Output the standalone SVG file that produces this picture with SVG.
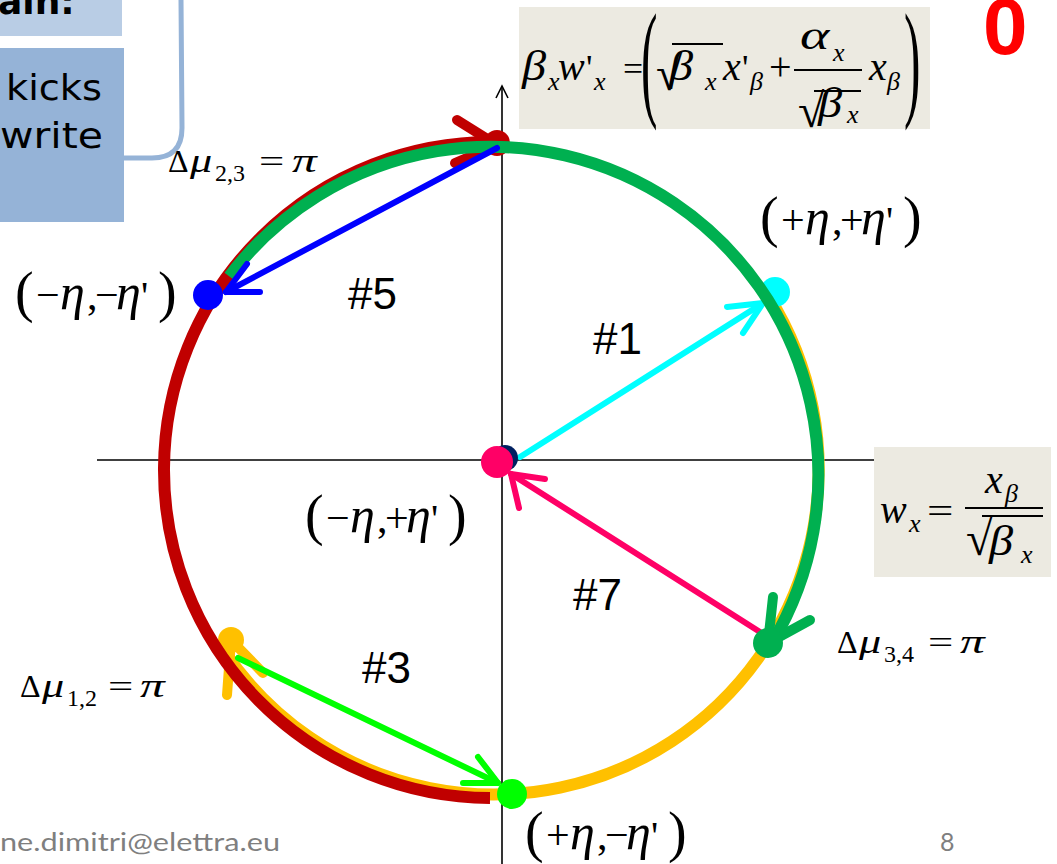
<svg xmlns="http://www.w3.org/2000/svg" width="1057" height="864" viewBox="0 0 1057 864">
<style>
.ax{stroke:#000;stroke-width:1.6;fill:none}
.m{font-family:"Liberation Serif","DejaVu Serif",serif;fill:#000}
.i{font-style:italic}
.h{font-family:"Liberation Sans",Arial,sans-serif;font-size:44px;fill:#000}
.arc{fill:none;stroke-width:12}
.hd{fill:none;stroke-width:10;stroke-linecap:round;stroke-linejoin:round}
.ar{fill:none;stroke-width:6;stroke-linecap:round;stroke-linejoin:round}
.cm{font-family:"DejaVu Sans","Liberation Sans",sans-serif;fill:#000}
</style>
<rect width="1057" height="864" fill="#fff"/>

<g id="topleft">
  <rect x="0" y="0" width="122" height="36" fill="#B9CDE5"/>
  <text class="cm" x="-2" y="14" font-size="36" font-weight="bold">ain:</text>
  <rect x="0" y="48" width="124" height="174" fill="#95B3D7"/>
  <text class="cm" x="6" y="100" font-size="36" textLength="96" lengthAdjust="spacingAndGlyphs">kicks</text>
  <text class="cm" x="0" y="148" font-size="36" textLength="103" lengthAdjust="spacingAndGlyphs">write</text>
</g>
<path id="bracket" d="M124,158 L152,158 Q182,158 182,128 L181,0" fill="none" stroke="#95B3D7" stroke-width="5"/>

<g id="axes">
  <line class="ax" x1="97" y1="460" x2="875" y2="460"/>
  <line class="ax" x1="502" y1="86" x2="502" y2="864"/>
  <polyline class="ax" points="496,98 502,86 508,98"/>
</g>

<g id="formula-top">
  <rect x="519" y="7" width="411" height="122" fill="#ECEAE1"/>
  <text class="m i" font-size="42" transform="translate(522,80) scale(1.15,1)">β</text>
  <text class="m i" x="548" y="90" font-size="26">x</text>
  <text class="m i" x="558" y="80" font-size="40">w</text>
  <text class="m" x="586" y="80" font-size="36">'</text>
  <text class="m i" x="594" y="90" font-size="26">x</text>
  <text class="m" font-size="34" transform="translate(623,80) scale(1.05,1)">=</text>
  <text class="m" font-size="130" transform="translate(641,103) scale(0.38,1)">(</text>
  <text class="m" x="656" y="90" font-size="48">√</text>
  <line x1="672" y1="44" x2="723" y2="44" stroke="#000" stroke-width="2"/>
  <text class="m i" font-size="42" transform="translate(669,80) scale(1.15,1)">β</text>
  <text class="m i" x="705" y="90" font-size="26">x</text>
  <text class="m i" x="723" y="80" font-size="40">x</text>
  <text class="m" x="742" y="80" font-size="36">'</text>
  <text class="m i" x="750" y="90" font-size="26">β</text>
  <text class="m" x="769" y="80" font-size="40">+</text>
  <line x1="794" y1="70" x2="862" y2="70" stroke="#000" stroke-width="2"/>
  <text class="m i" font-size="40" transform="translate(800,49) scale(1.4,1)">α</text>
  <text class="m i" x="833" y="61" font-size="26">x</text>
  <text class="m" x="798" y="127" font-size="48">√</text>
  <line x1="814" y1="91" x2="861" y2="91" stroke="#000" stroke-width="2"/>
  <text class="m i" font-size="42" transform="translate(818,117) scale(1.15,1)">β</text>
  <text class="m i" x="847" y="123" font-size="26">x</text>
  <text class="m i" x="869" y="80" font-size="40">x</text>
  <text class="m i" x="887" y="90" font-size="26">β</text>
  <text class="m" font-size="130" transform="translate(904,103) scale(0.38,1)">)</text>
</g>

<g id="formula-right">
  <rect x="874" y="447" width="177" height="130" fill="#ECEAE1"/>
  <text class="m i" x="880" y="523" font-size="40">w</text>
  <text class="m i" x="909" y="532" font-size="26">x</text>
  <text class="m" font-size="36" transform="translate(927,523) scale(1.3,1)">=</text>
  <line x1="965" y1="508" x2="1043" y2="508" stroke="#000" stroke-width="2"/>
  <text class="m i" x="985" y="493" font-size="40">x</text>
  <text class="m i" x="1005" y="502" font-size="26">β</text>
  <text class="m" x="966" y="555" font-size="48">√</text>
  <line x1="982" y1="516" x2="1043" y2="516" stroke="#000" stroke-width="2"/>
  <text class="m i" font-size="42" transform="translate(989,555) scale(1.15,1)">β</text>
  <text class="m i" x="1021" y="563" font-size="26">x</text>
</g>

<text id="red-zero" x="983" y="54" font-family="Liberation Sans,Arial,sans-serif" font-weight="bold" font-size="80" fill="#FF0000">0</text>

<g id="connectors">
  <path class="arc" stroke="#FFC000" d="M768.6,296.1 A325,325 0 0 1 224.6,651.7"/>
  <polyline class="hd" stroke="#FFC000" points="227,695 231,640 263,673"/>
  <circle cx="231" cy="640" r="13" fill="#FFC000"/>
  <circle cx="775" cy="292" r="15" fill="#00FFFF"/>
  <line class="ar" stroke="#00FFFF" x1="520" y1="457" x2="763" y2="303"/>
  <polyline class="ar" stroke="#00FFFF" points="727,307 763,303 743,333"/>
  <path class="arc" stroke="#C00000" d="M490,798 A328,328 0 0 1 494,142"/>
  <polyline class="hd" stroke="#C00000" points="457,120 497,145 455,163"/>
  <circle cx="497" cy="143" r="13" fill="#C00000"/>
  <path class="arc" stroke="#00B050" d="M229.3,276.3 A328,328 0 0 1 772,643"/>
  <polyline class="hd" stroke="#00B050" points="773,597 768,643 810,620"/>
  <line class="ar" stroke="#0000FF" x1="497" y1="148" x2="226" y2="292"/>
  <polyline class="ar" stroke="#0000FF" points="247,264 226,292 260,292"/>
  <circle cx="208" cy="295" r="15" fill="#0000FF"/>
  <line class="ar" stroke="#00FF00" x1="238" y1="658" x2="498" y2="783"/>
  <polyline class="ar" stroke="#00FF00" points="463,783 498,783 478,757"/>
  <circle cx="512" cy="794" r="15" fill="#00FF00"/>
  <line class="ar" stroke="#FF0066" x1="760" y1="632" x2="511" y2="474"/>
  <polyline class="ar" stroke="#FF0066" points="545,479 511,474 519,508"/>
  <circle cx="768" cy="643" r="15" fill="#00B050"/>
  <circle cx="505" cy="458" r="13" fill="#002060"/>
  <circle cx="497" cy="462" r="16" fill="#FF0066"/>
</g>

<g id="labels">
  <text class="h" x="348" y="309">#5</text>
  <text class="h" x="593" y="354">#1</text>
  <text class="h" x="573" y="610">#7</text>
  <text class="h" x="362" y="683">#3</text>
</g>

<g id="mu23">
  <text class="m" x="168" y="172" font-size="32">Δ</text>
  <text class="m i" font-size="34" transform="translate(190,172) scale(1.3,1)">μ</text>
  <text class="m" x="215" y="181" font-size="24">2,3</text>
  <text class="m" font-size="32" transform="translate(259,172) scale(1.4,1)">=</text>
  <text class="m i" font-size="34" transform="translate(292,172) scale(1.45,1)">π</text>
</g>
<g id="mu34">
  <text class="m" x="837" y="653" font-size="32">Δ</text>
  <text class="m i" font-size="34" transform="translate(859,653) scale(1.3,1)">μ</text>
  <text class="m" x="884" y="662" font-size="24">3,4</text>
  <text class="m" font-size="32" transform="translate(928,653) scale(1.4,1)">=</text>
  <text class="m i" font-size="34" transform="translate(960,653) scale(1.45,1)">π</text>
</g>
<g id="mu12">
  <text class="m" x="20" y="697" font-size="32">Δ</text>
  <text class="m i" font-size="34" transform="translate(42,697) scale(1.3,1)">μ</text>
  <text class="m" x="67" y="706" font-size="24">1,2</text>
  <text class="m" font-size="32" transform="translate(108,697) scale(1.4,1)">=</text>
  <text class="m i" font-size="34" transform="translate(140,697) scale(1.45,1)">π</text>
</g>

<g id="pt-pp">
  <text class="m" x="760" y="236" font-size="56">(</text>
  <text class="m" x="781" y="234" font-size="42">+</text>
  <text class="m i" x="805" y="234" font-size="50">η</text>
  <text class="m" x="832" y="234" font-size="42">,</text>
  <text class="m" x="840" y="234" font-size="42">+</text>
  <text class="m i" x="861" y="234" font-size="50">η</text>
  <text class="m" x="886" y="234" font-size="40">'</text>
  <text class="m" x="903" y="236" font-size="56">)</text>
</g>
<g id="pt-mm">
  <text class="m" x="15" y="311" font-size="56">(</text>
  <text class="m" x="36" y="309" font-size="42">−</text>
  <text class="m i" x="60" y="309" font-size="50">η</text>
  <text class="m" x="87" y="309" font-size="42">,</text>
  <text class="m" x="95" y="309" font-size="42">−</text>
  <text class="m i" x="116" y="309" font-size="50">η</text>
  <text class="m" x="141" y="309" font-size="40">'</text>
  <text class="m" x="158" y="311" font-size="56">)</text>
</g>
<g id="pt-mp">
  <text class="m" x="305" y="534" font-size="56">(</text>
  <text class="m" x="326" y="532" font-size="42">−</text>
  <text class="m i" x="350" y="532" font-size="50">η</text>
  <text class="m" x="377" y="532" font-size="42">,</text>
  <text class="m" x="385" y="532" font-size="42">+</text>
  <text class="m i" x="406" y="532" font-size="50">η</text>
  <text class="m" x="431" y="532" font-size="40">'</text>
  <text class="m" x="448" y="534" font-size="56">)</text>
</g>
<g id="pt-pm">
  <text class="m" x="525" y="851" font-size="56">(</text>
  <text class="m" x="546" y="849" font-size="42">+</text>
  <text class="m i" x="570" y="849" font-size="50">η</text>
  <text class="m" x="597" y="849" font-size="42">,</text>
  <text class="m" x="605" y="849" font-size="42">−</text>
  <text class="m i" x="626" y="849" font-size="50">η</text>
  <text class="m" x="651" y="849" font-size="40">'</text>
  <text class="m" x="668" y="851" font-size="56">)</text>
</g>

<g id="footer">
  <text x="0" y="851" font-family="Lato,'Open Sans',sans-serif" font-size="25" fill="#7F7F7F" textLength="280" lengthAdjust="spacingAndGlyphs">ne.dimitri@elettra.eu</text>
  <text x="940" y="851" font-family="Lato,'Open Sans',sans-serif" font-size="25" fill="#7F7F7F">8</text>
</g>
</svg>
